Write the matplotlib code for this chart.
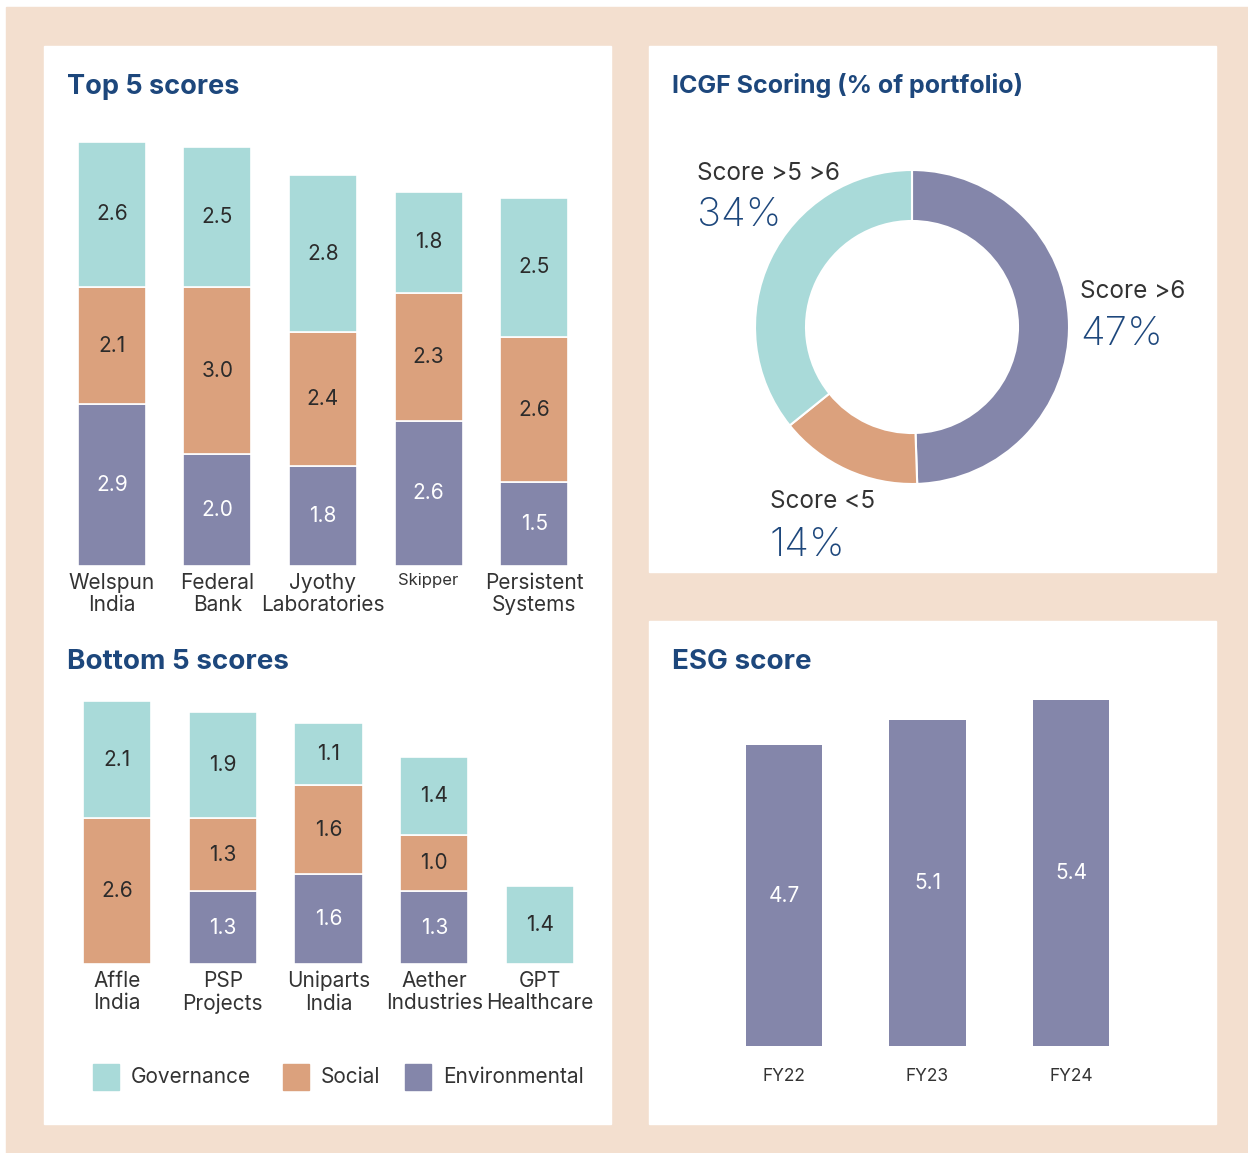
import matplotlib

matplotlib.use("Agg")
import matplotlib.pyplot as plt
from matplotlib.patches import Rectangle

plt.rcParams["font.family"] = ["Inter", "DejaVu Sans"]

# data
top_names = ["Welspun\nIndia", "Federal\nBank", "Jyothy\nLaboratories", "Skipper", "Persistent\nSystems"]
top_gov = [2.6, 2.5, 2.8, 1.8, 2.5]
top_soc = [2.1, 3.0, 2.4, 2.3, 2.6]
top_env = [2.9, 2.0, 1.8, 2.6, 1.5]

bot_names = ["Affle\nIndia", "PSP\nProjects", "Uniparts\nIndia", "Aether\nIndustries", "GPT\nHealthcare"]
bot_gov = [2.1, 1.9, 1.1, 1.4, 1.4]
bot_soc = [2.6, 1.3, 1.6, 1.0, 0.0]
bot_env = [0.0, 1.3, 1.6, 1.3, 0.0]

icgf_labels = ["Score >6", "Score <5", "Score >5 >6"]
icgf_pct = [47, 14, 34]

esg_years = ["FY22", "FY23", "FY24"]
esg_vals = [4.7, 5.1, 5.4]

GOV, SOC, ENV = "#A9DAD9", "#DBA17D", "#8486AA"
BLUE = "#1D477C"
TXT = "#333333"
W, H = 1248, 1153

fig = plt.figure(figsize=(W / 100, H / 100), dpi=100)
fig.patch.set_facecolor("white")


def box(x0, y0, x1, y1):
    # pixel box (top-left origin) -> figure fraction rect
    return [x0 / W, 1 - y1 / H, (x1 - x0) / W, (y1 - y0) / H]


def panel(x0, y0, x1, y1, color, z=-2):
    fig.patches.append(
        Rectangle((x0 / W, 1 - y1 / H), (x1 - x0) / W, (y1 - y0) / H,
                  transform=fig.transFigure, color=color, zorder=z)
    )


panel(6, 7, 1248, 1153, "#F3DFCF", -3)
panel(44, 46, 611, 1124, "white")
panel(649, 46, 1216, 572, "white")
panel(649, 621, 1216, 1124, "white")


def title(x, y, s, size=20):
    fig.text(x / W, 1 - y / H, s, color=BLUE, fontsize=size, fontweight="bold",
             ha="left", va="center")


def stacked(ax, names, gov, soc, env, ymax):
    xs = range(len(names))
    w = 0.645
    bottoms = [0.0] * len(names)
    for vals, col, tc in ((env, ENV, "white"), (soc, SOC, "#2b2b2b"), (gov, GOV, "#2b2b2b")):
        for i, v in enumerate(vals):
            if v <= 0:
                continue
            ax.bar(i, v, w, bottom=bottoms[i], color=col, edgecolor="white", lw=1.2)
            ax.text(i, bottoms[i] + v / 2, f"{v:.1f}", ha="center", va="center",
                    fontsize=15, color=tc)
            bottoms[i] += v
    ax.set_xlim(-0.5, len(names) - 0.5)
    ax.set_ylim(0, ymax)
    ax.set_xticks(list(xs))
    ax.set_xticklabels(names, fontsize=15, color=TXT, linespacing=1.15)
    ax.tick_params(length=0, pad=5)
    ax.set_yticks([])
    for s in ax.spines.values():
        s.set_visible(False)
    ax.patch.set_alpha(0)


# top 5
ax1 = fig.add_axes(box(59, 566 - 55.8 * 8, 587, 566))
stacked(ax1, top_names, top_gov, top_soc, top_env, 8)
ax1.get_xticklabels()[3].set_fontsize(12)
title(67, 87, "Top 5 scores", size=19.5)

# bottom 5
ax2 = fig.add_axes(box(64, 964 - 56 * 5, 593, 964))
stacked(ax2, bot_names, bot_gov, bot_soc, bot_env, 5)
title(67, 662, "Bottom 5 scores")

# legend
for x, lab, col in ((93, "Governance", GOV), (283, "Social", SOC), (405, "Environmental", ENV)):
    fig.patches.append(Rectangle((x / W, 1 - 1090 / H), 26 / W, 26 / H,
                                 transform=fig.transFigure, color=col, zorder=2))
    fig.text((x + 38) / W, 1 - 1077 / H, lab, fontsize=15, color=TXT,
             ha="left", va="center")

# ICGF donut
r = 157
ax3 = fig.add_axes(box(912 - 165, 327 - 165, 912 + 165, 327 + 165))
ax3.pie(icgf_pct, colors=[ENV, SOC, GOV], startangle=90, counterclock=False,
        radius=1, wedgeprops=dict(width=1 - 106 / r, edgecolor="white", lw=1.5))
lim = 165 / r
ax3.set_xlim(-lim, lim)
ax3.set_ylim(-lim, lim)
ax3.set_aspect("equal")
ax3.axis("off")
title(672, 86, "ICGF Scoring (% of portfolio)", size=18)
for (x, y), lab, p in zip([(1080, 292), (770, 502), (697, 173)], icgf_labels, icgf_pct):
    fig.text(x / W, 1 - y / H, lab, fontsize=17.5, color=TXT, ha="left", va="center")
    fig.text(x / W, 1 - (y + 43) / H, f"{p}%", fontsize=29, color=BLUE,
             fontweight="light", ha="left", va="center")

# ESG score
ax4 = fig.add_axes(box(712.25, 1046 - 64 * 6, 1142.75, 1046))
ax4.bar(range(3), esg_vals, 0.53, color=ENV)
for i, v in enumerate(esg_vals):
    ax4.text(i, v / 2, f"{v:.1f}", ha="center", va="center", fontsize=15,
             color="white")
ax4.set_xlim(-0.5, 2.5)
ax4.set_ylim(0, 6)
ax4.set_xticks(range(3))
ax4.set_xticklabels(esg_years, fontsize=12.5, color=TXT)
ax4.tick_params(length=0, pad=16)
ax4.set_yticks([])
for s in ax4.spines.values():
    s.set_visible(False)
ax4.patch.set_alpha(0)
title(672, 662, "ESG score")

fig.savefig("out.png", dpi=100)
